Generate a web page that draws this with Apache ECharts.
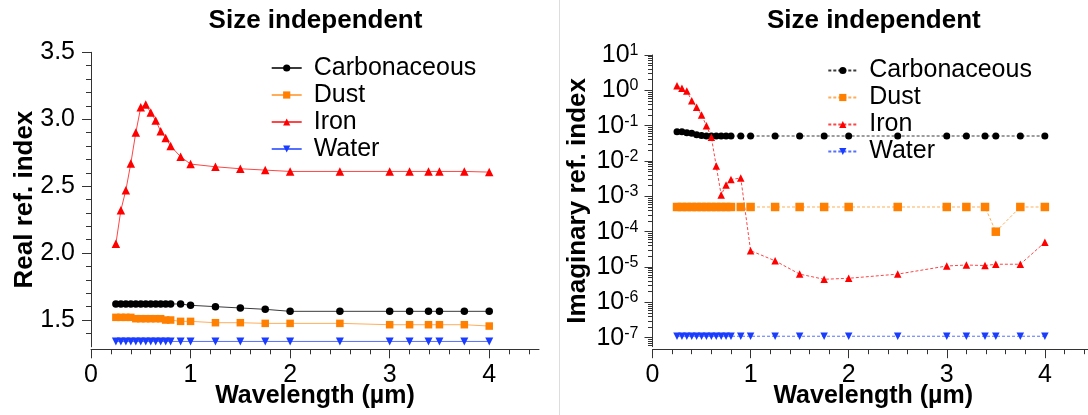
<!DOCTYPE html>
<html>
<head>
<meta charset="utf-8">
<script src="https://cdn.jsdelivr.net/npm/echarts@6/dist/echarts.min.js"></script>
<style>
  html, body { margin: 0; padding: 0; background: #ffffff; }
  #chart { width: 1088px; height: 415px; }
</style>
</head>
<body>
<div id="chart"></div>
<script>
// ---------------- data ----------------
const wavelengths = [0.25, 0.3, 0.35, 0.4, 0.45, 0.5, 0.55, 0.6, 0.65, 0.7, 0.75, 0.8, 0.9, 1.0, 1.25, 1.5, 1.75, 2.0, 2.5, 3.0, 3.2, 3.39, 3.5, 3.75, 4.0];
const seriesNames = ['Carbonaceous', 'Dust', 'Iron', 'Water'];

const realCarbonaceous = [1.62, 1.62, 1.62, 1.62, 1.62, 1.62, 1.62, 1.62, 1.62, 1.62, 1.62, 1.62, 1.62, 1.61, 1.60, 1.59, 1.58, 1.565, 1.565, 1.565, 1.565, 1.565, 1.565, 1.565, 1.565];
const realDust = [1.52, 1.52, 1.52, 1.52, 1.51, 1.51, 1.51, 1.51, 1.51, 1.51, 1.50, 1.50, 1.49, 1.49, 1.48, 1.48, 1.475, 1.475, 1.475, 1.465, 1.465, 1.465, 1.465, 1.465, 1.455];
const realIron = [2.07, 2.32, 2.47, 2.67, 2.90, 3.09, 3.11, 3.05, 2.99, 2.91, 2.86, 2.80, 2.72, 2.665, 2.645, 2.63, 2.62, 2.61, 2.61, 2.61, 2.61, 2.61, 2.61, 2.61, 2.605];
const realWater = [1.34, 1.34, 1.34, 1.34, 1.34, 1.34, 1.34, 1.34, 1.34, 1.34, 1.34, 1.34, 1.34, 1.34, 1.34, 1.34, 1.34, 1.34, 1.34, 1.34, 1.34, 1.34, 1.34, 1.34, 1.34];

const imagCarbonaceous = [0.067, 0.067, 0.063, 0.061, 0.0555, 0.053, 0.051, 0.051, 0.051, 0.051, 0.051, 0.051, 0.051, 0.051, 0.051, 0.051, 0.051, 0.051, 0.051, 0.051, 0.051, 0.051, 0.051, 0.051, 0.051];
const imagDust = [5e-4, 5e-4, 5e-4, 5e-4, 5e-4, 5e-4, 5e-4, 5e-4, 5e-4, 5e-4, 5e-4, 5e-4, 5e-4, 5e-4, 5e-4, 5e-4, 5e-4, 5e-4, 5e-4, 5e-4, 5e-4, 5e-4, 1e-4, 5e-4, 5e-4];
const imagIron = [1.35, 1.14, 0.96, 0.51, 0.33, 0.20, 0.10, 0.047, 0.0072, 0.0011, 0.0021, 0.0030, 0.0033, 2.9e-5, 1.5e-5, 6.3e-6, 4.5e-6, 4.8e-6, 6.3e-6, 1.07e-5, 1.14e-5, 1.1e-5, 1.2e-5, 1.2e-5, 5e-5];
const imagWater = [1.1e-7, 1.1e-7, 1.1e-7, 1.1e-7, 1.1e-7, 1.1e-7, 1.1e-7, 1.1e-7, 1.1e-7, 1.1e-7, 1.1e-7, 1.1e-7, 1.1e-7, 1.1e-7, 1.1e-7, 1.1e-7, 1.1e-7, 1.1e-7, 1.1e-7, 1.1e-7, 1.1e-7, 1.1e-7, 1.1e-7, 1.1e-7, 1.1e-7];

const xTickLabels = [0, 1, 2, 3, 4];
const realTickLabels = [1.5, 2.0, 2.5, 3.0, 3.5];
const imagTickExponents = [-7, -6, -5, -4, -3, -2, -1, 0, 1];

const titleText = 'Size independent';
const xName = 'Wavelength (µm)';
const realName = 'Real ref. index';
const imagName = 'Imaginary ref. index';

// ---------------- styling ----------------
const FONT = "'Liberation Sans', Arial, Helvetica, sans-serif";
const AXIS_COLOR = '#333333';
const IMAG_SUFFIX = ' (imaginary)';
const styles = [
  { symbol: 'circle',   rotate: 0,   marker: '#000000', line: '#3a3a3a', sizeL: 7.5, sizeR: 7 },
  { symbol: 'rect',     rotate: 0,   marker: '#ff7f00', line: '#ffad5a', sizeL: 7.5, sizeR: 8.5 },
  { symbol: 'triangle', rotate: 0,   marker: '#ff0000', line: '#ff4545', sizeL: 8.5, sizeR: 7.5 },
  { symbol: 'triangle', rotate: 180, marker: '#1a3cff', line: '#5570ff', sizeL: 8, sizeR: 7.5 }
];

const xMinor = [];
for (let k = 1; k <= 22; k++) { if (k % 5 !== 0) xMinor.push(+(k * 0.2).toFixed(1)); }
const realMinor = [];
for (let k = 14; k <= 34; k++) { if (k % 5 !== 0) realMinor.push(+(k / 10).toFixed(1)); }
const imagMajor = imagTickExponents.map(e => Math.pow(10, e));
const imagMin = Math.pow(10, -7.2547);
const imagMax = 10;
const imagMinor = [];
for (let e = -8; e <= 0; e++) {
  for (let k = 2; k <= 9; k++) {
    const v = k * Math.pow(10, e);
    if (v >= imagMin && v <= imagMax) imagMinor.push(v);
  }
}

const pairs = arr => wavelengths.map((w, i) => [w, arr[i]]);
const realSets = [realCarbonaceous, realDust, realIron, realWater];
const imagSets = [imagCarbonaceous, imagDust, imagIron, imagWater];

const tickLine = { color: AXIS_COLOR, width: 1 };
const boldName = { fontSize: 26, fontWeight: 'bold', color: '#000', fontFamily: FONT };

function mainX(gridIndex) {
  return {
    gridIndex, type: 'value', min: 0, max: 4.5, offset: 2.5,
    axisLine: { show: true, lineStyle: tickLine },
    axisTick: { show: true, length: 9, customValues: xTickLabels, lineStyle: tickLine },
    axisLabel: { customValues: xTickLabels, fontSize: 25, color: '#000', margin: 13, fontFamily: FONT, formatter: v => String(v) },
    splitLine: { show: false },
    name: xName, nameLocation: 'middle', nameGap: 34, nameMoveOverlap: false,
    nameTextStyle: { fontSize: 25, fontWeight: 'bold', color: '#000', fontFamily: FONT }
  };
}
function minorX(gridIndex) {
  return {
    gridIndex, type: 'value', min: 0, max: 4.5, offset: 2.5,
    axisLine: { show: false },
    axisTick: { show: true, length: 5, customValues: xMinor, lineStyle: tickLine },
    axisLabel: { show: false },
    splitLine: { show: false }
  };
}
function gridBox(left, top, width, height) {
  return { left, top, width, height, containLabel: false, outerBoundsMode: 'none' };
}

const option = {
  animation: false,
  textStyle: { fontFamily: FONT },
  title: [
    { text: titleText, left: 315.5, top: 8, padding: 0, textAlign: 'center', textStyle: { fontSize: 26, fontWeight: 'bold', color: '#000', fontFamily: FONT } },
    { text: titleText, left: 873.8, top: 8, padding: 0, textAlign: 'center', textStyle: { fontSize: 26, fontWeight: 'bold', color: '#000', fontFamily: FONT } }
  ],
  legend: [
    {
      data: seriesNames, orient: 'vertical', left: 270.7, top: 55.5, padding: 0,
      itemWidth: 30, itemHeight: 9, itemGap: 2, selectedMode: false,
      textStyle: { fontSize: 25, lineHeight: 25, color: '#000', fontFamily: FONT, padding: [0, 0, 0, 7] }
    },
    {
      data: seriesNames.map(n => n + IMAG_SUFFIX), orient: 'vertical', left: 827.3, top: 58, padding: 0,
      itemWidth: 29, itemHeight: 9, itemGap: 2, selectedMode: false,
      formatter: n => n.replace(IMAG_SUFFIX, ''),
      textStyle: { fontSize: 25, lineHeight: 25, color: '#000', fontFamily: FONT, padding: [0, 0, 0, 7] }
    }
  ],
  grid: [
    gridBox(91, 52.3, 448, 294.5),
    gridBox(652.5, 55, 441.4, 291.7),
    gridBox(91, 52.3, 448, 294.5),
    gridBox(652.5, 55, 441.4, 291.7)
  ],
  xAxis: [mainX(0), mainX(1), minorX(2), minorX(3)],
  yAxis: [
    {
      gridIndex: 0, type: 'value', min: 1.3, max: 3.5,
      axisLine: { show: true, lineStyle: tickLine },
      axisTick: { show: true, length: 9, customValues: realTickLabels, lineStyle: tickLine },
      axisLabel: { customValues: realTickLabels, fontSize: 25, color: '#000', margin: 16, fontFamily: FONT, formatter: v => v.toFixed(1) },
      splitLine: { show: false },
      name: realName, nameLocation: 'middle', nameGap: 53, nameMoveOverlap: false, nameTextStyle: boldName
    },
    {
      gridIndex: 1, type: 'log', logBase: 10, min: imagMin, max: imagMax,
      axisLine: { show: true, lineStyle: tickLine },
      axisTick: { show: true, length: 8, customValues: imagMajor, lineStyle: tickLine },
      axisLabel: {
        customValues: imagMajor, fontSize: 25, color: '#000', margin: 14, fontFamily: FONT,
        formatter: v => '10{s|' + Math.round(Math.log10(v)) + '}',
        rich: { s: { fontSize: 16, lineHeight: 16, verticalAlign: 'top', color: '#000', fontFamily: FONT } }
      },
      splitLine: { show: false }, minorTick: { show: false },
      name: imagName, nameLocation: 'middle', nameGap: 62, nameMoveOverlap: false, nameTextStyle: boldName
    },
    {
      gridIndex: 2, type: 'value', min: 1.3, max: 3.5,
      axisLine: { show: false },
      axisTick: { show: true, length: 5, customValues: realMinor, lineStyle: tickLine },
      axisLabel: { show: false }, splitLine: { show: false }
    },
    {
      gridIndex: 3, type: 'log', logBase: 10, min: imagMin, max: imagMax,
      axisLine: { show: false },
      axisTick: { show: true, length: 4.5, customValues: imagMinor, lineStyle: tickLine },
      axisLabel: { show: false }, splitLine: { show: false }
    }
  ],
  graphic: [
    { type: 'line', shape: { x1: 559.5, y1: 0, x2: 559.5, y2: 415 }, style: { stroke: '#dddddd', lineWidth: 1 }, silent: true }
  ],
  series: [
    ...realSets.map((arr, i) => ({
      name: seriesNames[i], type: 'line', xAxisIndex: 0, yAxisIndex: 0,
      data: pairs(arr),
      symbol: styles[i].symbol, symbolSize: styles[i].sizeL, symbolRotate: styles[i].rotate,
      itemStyle: { color: styles[i].marker },
      lineStyle: { color: styles[i].line, width: 1 },
      emphasis: { disabled: true }, clip: false
    })),
    ...imagSets.map((arr, i) => ({
      name: seriesNames[i] + IMAG_SUFFIX, type: 'line', xAxisIndex: 1, yAxisIndex: 1,
      data: pairs(arr),
      symbol: styles[i].symbol, symbolSize: styles[i].sizeR, symbolRotate: styles[i].rotate,
      itemStyle: { color: styles[i].marker },
      lineStyle: { color: styles[i].line, width: 1, type: [3, 2] },
      emphasis: { disabled: true }, clip: false
    }))
  ]
};

const chart = echarts.init(document.getElementById('chart'), null, { renderer: 'canvas' });
chart.setOption(option);
</script>
</body>
</html>
